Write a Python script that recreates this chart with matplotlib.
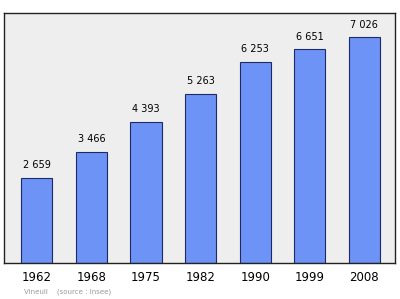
import matplotlib
matplotlib.use("Agg")
import matplotlib.pyplot as plt

years = ["1962", "1968", "1975", "1982", "1990", "1999", "2008"]
population = [2659, 3466, 4393, 5263, 6253, 6651, 7026]
value_labels = ["2 659", "3 466", "4 393", "5 263", "6 253", "6 651", "7 026"]

fig = plt.figure(figsize=(4, 2.99), dpi=100)
ax = fig.add_axes([0.01, 0.12, 0.9775, 0.8365])
ax.set_facecolor("#eeeeee")

x = range(len(years))
ax.bar(x, population, width=0.57, color="#6e93f7", edgecolor="#1e2a66", linewidth=0.8, zorder=2)
for i, (v, lab) in enumerate(zip(population, value_labels)):
    ax.text(i, v + 230, lab, ha="center", va="bottom", fontsize=7, color="black")

ax.set_xlim(-0.6, 6.56)
ax.set_ylim(0, 7770)
ax.set_xticks(list(x))
ax.set_xticklabels(years, fontsize=8.5)
ax.tick_params(axis="x", length=0, pad=6)
ax.set_yticks([])
for s in ax.spines.values():
    s.set_linewidth(1.0)
    s.set_color("#222222")

fig.text(0.06, 0.02, "Vineuil    (source : Insee)", fontsize=5, color="#999999")

fig.savefig("out.png", dpi=100)
